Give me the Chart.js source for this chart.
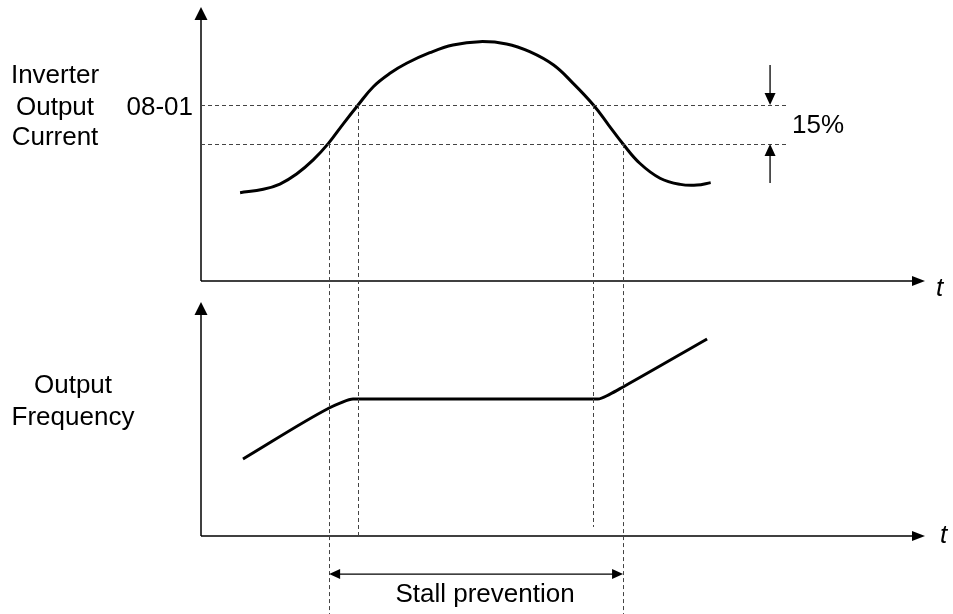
<!DOCTYPE html>
<html>
<head>
<meta charset="utf-8">
<title>Stall prevention</title>
<script src="https://cdn.jsdelivr.net/npm/chart.js@4.4.1/dist/chart.umd.min.js"></script>
<style>
  html, body { margin: 0; padding: 0; background: #fff; }
  canvas { display: block; }
</style>
</head>
<body>
<canvas id="stallChart" width="953" height="614"></canvas>
<script>
// Inverter output current over time (08-01 stall level = 100)
const currentTime = [5.4, 8.6, 10.9, 13.2, 15.5, 17.6, 19.7, 21.7, 23.8, 26.1, 28.4, 31.6, 34.8, 38.5,
                     42.2, 45.4, 48.7, 51.4, 54.2, 56.3, 58.3, 60.6, 63.4, 66.2, 68.5, 70.4];
const currentValue = [50.2, 52.1, 55.1, 60.8, 68.8, 78.2, 89.6, 100, 110.4, 118.0, 123.7, 129.7, 134.1, 136.0,
                      134.7, 130.3, 122.7, 112.3, 100, 88.6, 77.8, 66.9, 58.4, 54.9, 54.5, 55.9];

// Output frequency over time
const freqTime = [5.8, 17.7, 19.2, 21.0, 54.8, 56.5, 58.3, 69.9];
const freqValue = [28.1, 46.7, 48.5, 50.0, 50.0, 51.8, 54.4, 71.9];

// Stall levels and the times the current crosses them
const stallLevel = 100;     // 08-01
const releaseLevel = 77.8;  // 08-01 minus 15%
const crossTimes = [17.7, 21.7, 54.1, 58.3];
const crossLevels = [releaseLevel, stallLevel, stallLevel, releaseLevel];
const crossBottom = [-29, 0, 3.3, -29];   // where each guide stops, in frequency units

// Axis ranges
const timeAxisMax = 100;
const currentAxisMax = 155.7;
const freqAxisMax = 85.4;

// Fit a linear scale so that v0 -> p0 and v1 -> p1 on a canvas side of `size` px
function fitScale(v0, p0, v1, p1, size) {
    const k = (p1 - p0) / (v1 - v0);
    const a = v0 - p0 / k;
    const b = v0 + (size - p0) / k;
    return { min: Math.min(a, b), max: Math.max(a, b) };
}

const W = 953, H = 614;
const xFit = fitScale(0, 201, timeAxisMax, 925, W);
const curFit = fitScale(0, 281, stallLevel, 105, H);
const freqFit = fitScale(0, 536, 50, 399, H);

const FONT = '"Liberation Sans", Arial, sans-serif';

function arrowHead(ctx, tx, ty, dx, dy, len, half) {
    const bx = tx - dx * len, by = ty - dy * len;
    ctx.beginPath();
    ctx.moveTo(tx, ty);
    ctx.lineTo(bx - dy * half, by + dx * half);
    ctx.lineTo(bx + dy * half, by - dx * half);
    ctx.closePath();
    ctx.fill();
}

function line(ctx, x1, y1, x2, y2) {
    ctx.beginPath();
    ctx.moveTo(x1, y1);
    ctx.lineTo(x2, y2);
    ctx.stroke();
}

const diagram = {
    id: 'diagram',
    afterDatasetsDraw(chart) {
        const ctx = chart.ctx;
        const x = chart.scales.x, yc = chart.scales.yCur, yf = chart.scales.yFreq;
        const x0 = x.getPixelForValue(0);
        const xEnd = x.getPixelForValue(timeAxisMax);
        const curBase = yc.getPixelForValue(0);
        const freqBase = yf.getPixelForValue(0);

        ctx.save();
        ctx.fillStyle = '#000';
        ctx.strokeStyle = '#000';

        // axes
        ctx.lineWidth = 1.5;
        const curTop = yc.getPixelForValue(currentAxisMax);
        const freqTop = yf.getPixelForValue(freqAxisMax);
        line(ctx, x0, curBase, x0, curTop + 10);
        arrowHead(ctx, x0, curTop, 0, -1, 13, 6.5);
        line(ctx, x0, freqBase, x0, freqTop + 10);
        arrowHead(ctx, x0, freqTop, 0, -1, 13, 6.5);
        line(ctx, x0, curBase, xEnd - 10, curBase);
        arrowHead(ctx, xEnd, curBase, 1, 0, 13, 5);
        line(ctx, x0, freqBase, xEnd - 10, freqBase);
        arrowHead(ctx, xEnd, freqBase, 1, 0, 13, 5);

        // dashed guides
        ctx.strokeStyle = '#444';
        ctx.lineWidth = 1;
        ctx.setLineDash([4, 3]);
        const guideEnd = x.getPixelForValue(81.1);
        [stallLevel, releaseLevel].forEach(v => {
            const py = Math.round(yc.getPixelForValue(v)) + 0.5;
            line(ctx, x0, py, guideEnd, py);
        });
        crossTimes.forEach((t, i) => {
            const px = Math.round(x.getPixelForValue(t)) + 0.5;
            line(ctx, px, yc.getPixelForValue(crossLevels[i]), px, yf.getPixelForValue(crossBottom[i]));
        });
        ctx.setLineDash([]);

        // 15% band arrows
        ctx.strokeStyle = '#000';
        ctx.lineWidth = 1.3;
        const bx = x.getPixelForValue(78.6);
        const topTip = yc.getPixelForValue(stallLevel);
        const lowTip = yc.getPixelForValue(releaseLevel);
        line(ctx, bx, yc.getPixelForValue(122.7), bx, topTip - 10);
        arrowHead(ctx, bx, topTip, 0, 1, 12, 5.5);
        line(ctx, bx, yc.getPixelForValue(55.7), bx, lowTip + 10);
        arrowHead(ctx, bx, lowTip, 0, -1, 12, 5.5);

        // stall prevention span
        const sy = yf.getPixelForValue(-13.9);
        const sx1 = x.getPixelForValue(crossTimes[0]);
        const sx2 = x.getPixelForValue(crossTimes[3]);
        line(ctx, sx1 + 8, sy, sx2 - 8, sy);
        arrowHead(ctx, sx1, sy, -1, 0, 11, 5);
        arrowHead(ctx, sx2, sy, 1, 0, 11, 5);

        // text
        ctx.font = '26px ' + FONT;
        ctx.textBaseline = 'alphabetic';
        ctx.textAlign = 'center';
        ctx.fillText('Inverter', 55, 83);
        ctx.fillText('Output', 55, 115);
        ctx.fillText('Current', 55, 145);
        ctx.fillText('Output', 73, 393);
        ctx.fillText('Frequency', 73, 425);
        ctx.fillText('Stall prevention', 485, 602);
        ctx.textAlign = 'right';
        ctx.fillText('08-01', 193, 115);
        ctx.textAlign = 'left';
        ctx.fillText('15%', 792, 133);
        ctx.font = 'italic 26px ' + FONT;
        ctx.fillText('t', 936, 296);
        ctx.fillText('t', 940, 543);
        ctx.restore();
    }
};

const currentPoints = currentTime.map((t, i) => ({ x: t, y: currentValue[i] }));
const freqPoints = freqTime.map((t, i) => ({ x: t, y: freqValue[i] }));

new Chart(document.getElementById('stallChart'), {
    type: 'line',
    data: {
        datasets: [{
            label: 'Inverter Output Current',
            data: currentPoints,
            yAxisID: 'yCur',
            borderColor: '#000',
            borderWidth: 3,
            tension: 0.4,
            pointRadius: 0,
            fill: false
        }, {
            label: 'Output Frequency',
            data: freqPoints,
            yAxisID: 'yFreq',
            borderColor: '#000',
            borderWidth: 3,
            cubicInterpolationMode: 'monotone',
            pointRadius: 0,
            fill: false
        }]
    },
    options: {
        responsive: false,
        animation: false,
        events: [],
        layout: { padding: 0 },
        plugins: { legend: { display: false }, tooltip: { enabled: false } },
        scales: {
            x: { type: 'linear', display: false, min: xFit.min, max: xFit.max },
            yCur: { type: 'linear', display: false, position: 'left', min: curFit.min, max: curFit.max },
            yFreq: { type: 'linear', display: false, position: 'left', min: freqFit.min, max: freqFit.max }
        }
    },
    plugins: [diagram]
});
</script>
</body>
</html>
